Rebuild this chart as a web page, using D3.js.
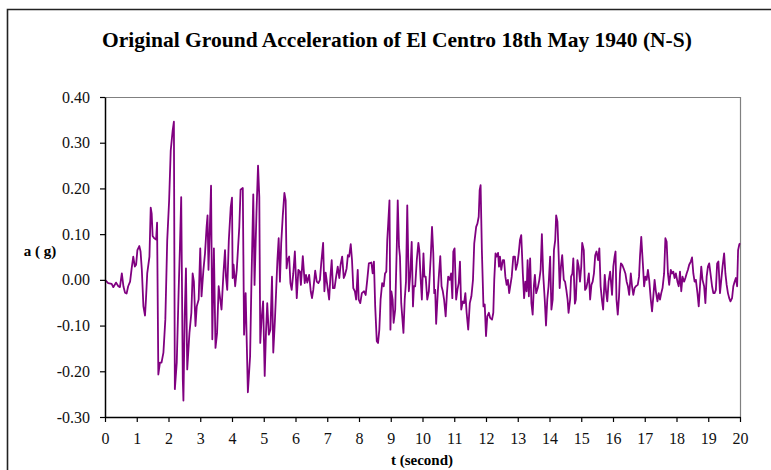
<!DOCTYPE html>
<html>
<head>
<meta charset="utf-8">
<title>El Centro N-S ground acceleration</title>
<script src="https://cdn.jsdelivr.net/npm/d3@7/dist/d3.min.js"></script>
<style>
  html, body { margin: 0; padding: 0; background: #fff; }
  svg { display: block; }
  svg text { font-family: "Liberation Serif", "DejaVu Serif", serif; }
</style>
</head>
<body>
<svg id="chart" width="771" height="470"></svg>
<script>
/* Original El Centro 1940 N-S record (t in s, a in g) */

const TITLE = "Original Ground Acceleration of El Centro 18th May 1940 (N-S)";
const X_LABEL = "t (second)";
const Y_LABEL = "a ( g)";

const xTicks = [0, 1, 2, 3, 4, 5, 6, 7, 8, 9, 10, 11, 12, 13, 14, 15, 16, 17, 18, 19, 20];
const yTicks = [-0.3, -0.2, -0.1, 0, 0.1, 0.2, 0.3, 0.4];

const time = [
  0.00, 0.10, 0.21, 0.26, 0.35, 0.42, 0.47, 0.53, 0.58, 0.63, 0.68, 0.73, 0.79, 0.84, 0.89, 0.94, 0.98,
  1.02, 1.08, 1.12, 1.16, 1.21, 1.26, 1.29, 1.33, 1.40, 1.44, 1.47, 1.50, 1.55, 1.61, 1.64, 1.68, 1.73,
  1.78, 1.84, 1.90, 1.96, 2.02, 2.07, 2.13, 2.17, 2.20, 2.26, 2.32, 2.36, 2.40, 2.45, 2.47, 2.51, 2.55,
  2.59, 2.66, 2.72, 2.76, 2.80, 2.85, 2.89, 2.95, 3.00, 3.04, 3.10, 3.15, 3.20, 3.23, 3.26, 3.30, 3.34,
  3.38, 3.43, 3.48, 3.53, 3.58, 3.63, 3.67, 3.73, 3.78, 3.81, 3.85, 3.90, 3.96, 4.00, 4.02, 4.05, 4.10,
  4.15, 4.19, 4.23, 4.27, 4.34, 4.38, 4.43, 4.46, 4.50, 4.57, 4.61, 4.67, 4.71, 4.77, 4.82, 4.86, 4.89,
  4.93, 4.98, 5.03, 5.07, 5.11, 5.16, 5.21, 5.26, 5.30, 5.35, 5.39, 5.43, 5.47, 5.51, 5.55, 5.60, 5.65,
  5.69, 5.72, 5.75, 5.80, 5.84, 5.88, 5.93, 5.98, 6.04, 6.09, 6.14, 6.17, 6.23, 6.29, 6.33, 6.37, 6.43,
  6.48, 6.52, 6.56, 6.62, 6.67, 6.72, 6.77, 6.81, 6.87, 6.91, 6.95, 7.00, 7.06, 7.10, 7.14, 7.18, 7.23,
  7.28, 7.33, 7.38, 7.42, 7.47, 7.52, 7.56, 7.61, 7.65, 7.69, 7.74, 7.78, 7.82, 7.87, 7.91, 7.96, 7.99,
  8.04, 8.09, 8.16, 8.21, 8.26, 8.31, 8.39, 8.43, 8.47, 8.51, 8.56, 8.60, 8.64, 8.68, 8.73, 8.78, 8.82,
  8.86, 8.89, 8.92, 8.96, 8.99, 9.02, 9.06, 9.09, 9.14, 9.19, 9.22, 9.26, 9.29, 9.33, 9.40, 9.44, 9.48,
  9.52, 9.57, 9.61, 9.66, 9.70, 9.73, 9.77, 9.82, 9.87, 9.90, 9.94, 9.98, 10.03, 10.06, 10.10, 10.15,
  10.20, 10.26, 10.30, 10.34, 10.37, 10.40, 10.43, 10.48, 10.52, 10.56, 10.60, 10.64, 10.68, 10.73,
  10.77, 10.81, 10.86, 10.90, 10.94, 10.97, 11.01, 11.06, 11.10, 11.14, 11.18, 11.22, 11.27, 11.31,
  11.35, 11.39, 11.44, 11.49, 11.54, 11.59, 11.63, 11.69, 11.73, 11.77, 11.80, 11.83, 11.87, 11.92,
  11.96, 12.00, 12.04, 12.09, 12.13, 12.19, 12.23, 12.26, 12.30, 12.34, 12.38, 12.41, 12.44, 12.48,
  12.53, 12.57, 12.61, 12.65, 12.69, 12.73, 12.81, 12.86, 12.91, 12.94, 12.99, 13.03, 13.07, 13.11,
  13.16, 13.20, 13.24, 13.28, 13.31, 13.35, 13.39, 13.43, 13.47, 13.51, 13.54, 13.58, 13.63, 13.68,
  13.72, 13.76, 13.80, 13.85, 13.89, 13.93, 13.97, 14.02, 14.06, 14.10, 14.14, 14.18, 14.21, 14.25,
  14.29, 14.32, 14.36, 14.40, 14.45, 14.49, 14.53, 14.57, 14.60, 14.65, 14.68, 14.72, 14.75, 14.80,
  14.83, 14.88, 14.92, 14.96, 15.00, 15.03, 15.08, 15.12, 15.16, 15.20, 15.24, 15.28, 15.32, 15.36,
  15.40, 15.44, 15.48, 15.53, 15.57, 15.61, 15.65, 15.69, 15.74, 15.78, 15.82, 15.86, 15.91, 15.97,
  16.01, 16.05, 16.08, 16.11, 16.15, 16.19, 16.22, 16.25, 16.29, 16.35, 16.39, 16.43, 16.47, 16.51,
  16.56, 16.60, 16.64, 16.68, 16.72, 16.78, 16.82, 16.85, 16.89, 16.94, 16.98, 17.02, 17.06, 17.10,
  17.14, 17.19, 17.23, 17.27, 17.31, 17.35, 17.40, 17.44, 17.48, 17.52, 17.56, 17.61, 17.65, 17.69,
  17.73, 17.77, 17.82, 17.86, 17.90, 17.94, 17.98, 18.03, 18.07, 18.11, 18.15, 18.19, 18.24, 18.28,
  18.32, 18.36, 18.40, 18.45, 18.49, 18.53, 18.57, 18.61, 18.66, 18.70, 18.74, 18.78, 18.82, 18.87,
  18.91, 18.95, 18.99, 19.03, 19.07, 19.12, 19.16, 19.20, 19.24, 19.28, 19.32, 19.37, 19.41, 19.45,
  19.50, 19.54, 19.58, 19.62, 19.66, 19.70, 19.75, 19.79, 19.83, 19.87, 19.91, 19.94, 19.98, 20.00,
];

const accel = [
  0.000, -0.007, -0.009, -0.016, -0.006, -0.014, -0.016, 0.014, -0.014, -0.028, -0.030, -0.014, -0.004, 0.025, 0.051, 0.029, 0.033,
  0.065, 0.074, 0.062, 0.022, -0.058, -0.078, -0.043, 0.014, 0.051, 0.158, 0.145, 0.096, 0.091, 0.088, 0.125, -0.207, -0.181,
  -0.181, -0.159, -0.087, 0.087, 0.174, 0.283, 0.326, 0.346, -0.239, -0.181, -0.022, 0.072, 0.181, -0.217, -0.264, -0.080, 0.025,
  -0.196, -0.116, -0.072, 0.014, -0.004, -0.101, -0.058, -0.043, 0.069, -0.036, 0.022, 0.058, 0.116, 0.141, 0.022, 0.109, 0.206,
  -0.130, 0.069, -0.149, -0.116, -0.014, -0.043, -0.065, 0.014, 0.065, 0.007, -0.022, 0.087, 0.159, 0.180, 0.004, 0.033, -0.014,
  0.022, 0.069, 0.116, 0.197, 0.201, -0.120, -0.029, -0.123, -0.246, -0.167, -0.014, 0.187, -0.011, 0.145, 0.250, 0.181, -0.138,
  -0.087, -0.047, -0.210, -0.116, -0.051, -0.120, -0.109, 0.007, -0.159, -0.091, -0.025, 0.043, 0.091, -0.004, 0.080, 0.141, 0.190,
  0.174, 0.025, 0.043, 0.051, -0.007, -0.022, 0.014, 0.062, -0.040, 0.022, 0.018, -0.011, 0.052, -0.007, 0.011, -0.006, 0.011,
  -0.025, -0.040, -0.022, 0.020, -0.004, -0.007, 0.000, 0.036, 0.081, -0.025, 0.016, -0.011, -0.043, 0.007, 0.043, -0.018, -0.018,
  0.007, 0.029, 0.004, 0.033, 0.051, 0.004, 0.011, 0.025, 0.054, 0.051, 0.078, 0.043, -0.018, -0.025, -0.043, 0.022, -0.043,
  -0.051, -0.029, -0.025, -0.033, 0.000, 0.036, 0.038, 0.014, 0.040, -0.058, -0.134, -0.138, -0.109, -0.043, -0.007, -0.014, 0.014,
  0.018, 0.087, 0.123, 0.174, -0.109, -0.025, -0.043, -0.094, -0.065, 0.072, 0.174, 0.072, 0.051, -0.051, -0.116, -0.043, -0.004,
  0.163, -0.025, 0.007, 0.083, -0.058, -0.014, -0.014, 0.043, 0.081, 0.065, 0.004, -0.043, 0.058, 0.007, 0.007, -0.043,
  -0.025, 0.051, 0.116, 0.058, -0.029, -0.022, -0.096, -0.029, 0.014, 0.052, -0.014, -0.025, -0.043, -0.080,
  -0.029, 0.007, 0.000, 0.014, -0.040, 0.062, 0.069, -0.043, -0.022, -0.007, 0.040, -0.065, -0.047, -0.051,
  -0.029, -0.072, -0.109, -0.051, -0.036, 0.000, 0.080, 0.116, 0.123, 0.138, 0.196, 0.207, 0.065, -0.058,
  -0.054, -0.123, -0.080, -0.072, -0.083, -0.087, -0.072, 0.000, 0.058, 0.051, 0.059, 0.029, 0.051, 0.022,
  0.043, 0.043, 0.007, -0.011, 0.000, -0.029, 0.007, 0.051, 0.051, 0.022, 0.036, 0.058, 0.087, 0.098,
  0.014, -0.040, -0.004, -0.025, 0.043, -0.036, 0.047, -0.051, -0.076, -0.011, 0.011, -0.029, -0.018, 0.000,
  0.022, 0.100, 0.014, -0.043, -0.100, -0.043, -0.014, 0.051, -0.065, -0.043, 0.065, 0.087, 0.141, 0.127,
  0.051, -0.018, 0.029, 0.054, 0.000, -0.004, -0.022, -0.043, -0.072, -0.043, 0.007, 0.014, 0.047, -0.052,
  -0.043, 0.043, 0.029, -0.004, 0.029, 0.081, 0.065, -0.022, -0.018, -0.004, 0.014, -0.043, -0.011, -0.004,
  0.014, 0.054, 0.062, 0.043, 0.069, -0.014, -0.043, -0.065, 0.011, -0.025, -0.047, -0.004, 0.018, -0.033,
  0.029, 0.051, 0.062, -0.043, -0.076, -0.036, 0.014, 0.036, 0.033, 0.022, 0.014, -0.004, -0.014, -0.033,
  0.014, -0.014, -0.033, -0.018, -0.014, -0.011, 0.007, 0.051, 0.094, 0.036, -0.014, 0.007, 0.000, 0.022,
  0.000, -0.043, -0.069, -0.036, 0.000, -0.025, -0.047, -0.029, -0.043, -0.029, -0.018, 0.014, 0.091, 0.083,
  0.014, -0.011, 0.022, 0.014, 0.018, 0.004, 0.014, -0.004, -0.014, 0.018, -0.025, 0.007, -0.004, 0.004,
  0.014, 0.022, 0.033, 0.040, 0.049, 0.014, -0.004, 0.000, -0.029, -0.058, -0.014, 0.029, 0.000, -0.014,
  -0.051, 0.007, 0.029, 0.036, 0.014, -0.014, -0.029, -0.029, -0.022, 0.036, 0.040, -0.029, 0.000, 0.029,
  0.058, 0.014, -0.011, -0.029, -0.040, -0.047, -0.040, -0.014, -0.004, 0.004, -0.014, 0.065, 0.078, 0.080,
];

const SERIF = '"Liberation Serif", "DejaVu Serif", serif';
const LINE_COLOR = "#800080";

function drawChart() {
  const svg = d3.select("#chart");
  const plot = { left: 105, right: 740, top: 97, bottom: 417 };

  const x = d3.scaleLinear().domain([0, 20]).range([plot.left, plot.right]);
  const y = d3.scaleLinear().domain([-0.3, 0.4]).range([plot.bottom, plot.top]);

  svg.append("rect").attr("width", 771).attr("height", 470).attr("fill", "#fff");

  // outer chart frame (only top + left edges fall inside the picture)
  svg.append("path")
    .attr("d", "M7.5,470 V9.5 H771")
    .attr("fill", "none")
    .attr("stroke", "#222")
    .attr("stroke-width", 1.6);

  // plot area border: top/right grey
  svg.append("path")
    .attr("d", `M${plot.left},${plot.top + 0.5} H${plot.right + 0.5} V${plot.bottom}`)
    .attr("fill", "none")
    .attr("stroke", "#808080")
    .attr("stroke-width", 1.2);

  svg.append("text")
    .attr("x", 397)
    .attr("y", 47)
    .attr("text-anchor", "middle")
    .style("font-family", SERIF)
    .attr("font-weight", "bold")
    .attr("font-size", 21.5)
    .attr("fill", "#000")
    .text(TITLE);

  const data = time.map((t, i) => ({ t, a: accel[i] }));
  const line = d3.line().x((d) => x(d.t)).y((d) => y(d.a));

  svg.append("path")
    .datum(data)
    .attr("d", line)
    .attr("fill", "none")
    .attr("stroke", LINE_COLOR)
    .attr("stroke-width", 1.8)
    .attr("stroke-linejoin", "round");

  const yAxis = svg.append("g")
    .attr("transform", `translate(${plot.left},0)`)
    .call(
      d3.axisLeft(y)
        .tickValues(yTicks)
        .tickFormat((d) => d.toFixed(2))
        .tickSize(5)
        .tickPadding(10)
        .tickSizeOuter(0)
    );

  const xAxis = svg.append("g")
    .attr("transform", `translate(0,${plot.bottom})`)
    .call(
      d3.axisBottom(x)
        .tickValues(xTicks)
        .tickFormat((d) => String(d))
        .tickSize(5)
        .tickPadding(11)
        .tickSizeOuter(0)
    );

  [yAxis, xAxis].forEach((g) => {
    g.attr("font-family", null).attr("font-size", null);
    g.select(".domain").attr("stroke", "#000").attr("stroke-width", 1.5);
    g.selectAll(".tick line").attr("stroke", "#000").attr("stroke-width", 1.2);
    g.selectAll(".tick text")
      .style("font-family", SERIF)
      .style("font-size", "16px")
      .attr("fill", "#111");
  });

  svg.append("text")
    .attr("x", 40)
    .attr("y", 256)
    .attr("text-anchor", "middle")
    .style("font-family", SERIF)
    .attr("font-weight", "bold")
    .attr("font-size", 15)
    .text(Y_LABEL);

  svg.append("text")
    .attr("x", 422)
    .attr("y", 465)
    .attr("text-anchor", "middle")
    .style("font-family", SERIF)
    .attr("font-weight", "bold")
    .attr("font-size", 15)
    .text(X_LABEL);
}

drawChart();
</script>
</body>
</html>
